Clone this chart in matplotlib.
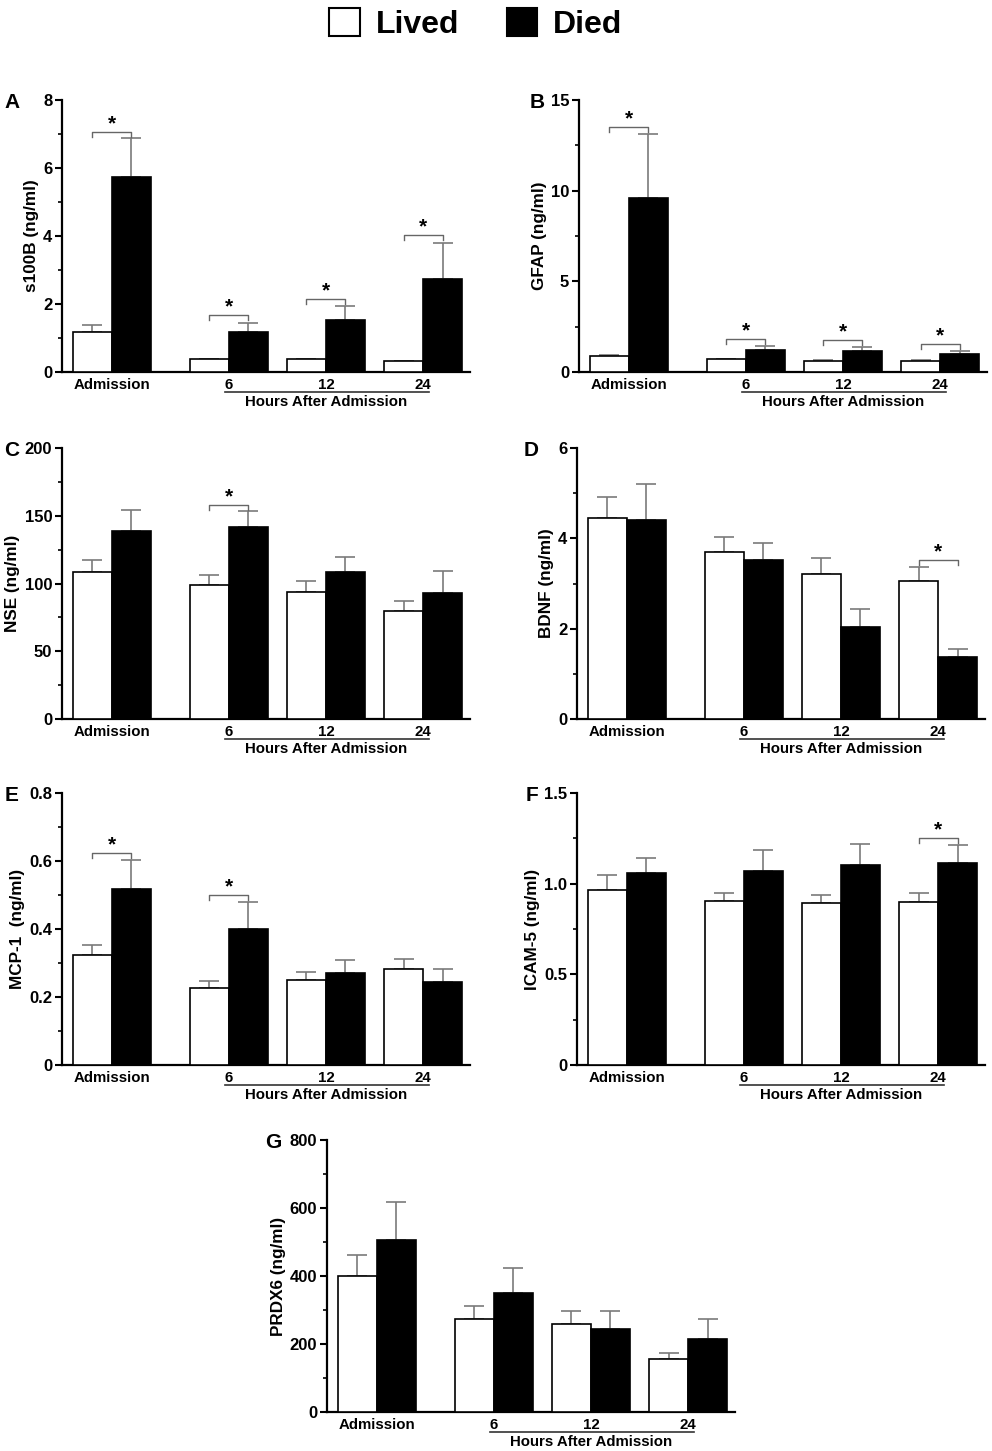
import matplotlib
matplotlib.use("Agg")
import matplotlib.pyplot as plt
import matplotlib.transforms as mtransforms
from matplotlib.patches import Patch
from matplotlib.ticker import MultipleLocator, FuncFormatter
import numpy as np

plt.rcParams['font.family'] = ['Liberation Sans', 'DejaVu Sans']
plt.rcParams['font.weight'] = 'bold'

groups = ["Admission", "6", "12", "24"]
group_pos = [0, 3, 5.5, 8]

# s100B
s100b_lived = [1.19, 0.38, 0.38, 0.31]
s100b_lived_sem = [0.20, 0.01, 0.01, 0.01]
s100b_died = [5.74, 1.19, 1.52, 2.75]
s100b_died_sem = [1.14, 0.26, 0.42, 1.05]
s100b_sig = [7.07, 1.67, 2.14, 4.03]

# GFAP
gfap_lived = [0.86, 0.72, 0.62, 0.62]
gfap_lived_sem = [0.09, 0.02, 0.02, 0.02]
gfap_died = [9.61, 1.19, 1.14, 1.01]
gfap_died_sem = [3.51, 0.22, 0.22, 0.13]
gfap_sig = [13.49, 1.82, 1.78, 1.56]

# NSE
nse_lived = [108.7, 98.6, 94.0, 80.0]
nse_lived_sem = [8.4, 7.9, 8.1, 6.8]
nse_died = [138.7, 141.5, 108.5, 93.2]
nse_died_sem = [15.5, 12.3, 11.3, 15.8]
nse_sig = [None, 158.2, None, None]

# BDNF
bdnf_lived = [4.44, 3.70, 3.20, 3.05]
bdnf_lived_sem = [0.48, 0.34, 0.36, 0.31]
bdnf_died = [4.40, 3.51, 2.03, 1.37]
bdnf_died_sem = [0.80, 0.39, 0.41, 0.19]
bdnf_sig = [None, None, None, 3.51]

# MCP-1
mcp_lived = [0.324, 0.227, 0.249, 0.282]
mcp_lived_sem = [0.029, 0.021, 0.025, 0.031]
mcp_died = [0.518, 0.401, 0.271, 0.245]
mcp_died_sem = [0.084, 0.077, 0.038, 0.036]
mcp_sig = [0.623, 0.50, None, None]

# ICAM-5
icam_lived = [0.964, 0.902, 0.891, 0.900]
icam_lived_sem = [0.083, 0.047, 0.047, 0.046]
icam_died = [1.060, 1.069, 1.104, 1.116]
icam_died_sem = [0.082, 0.117, 0.117, 0.096]
icam_sig = [None, None, None, 1.252]

# PRDX6
prdx_lived = [401, 275, 259, 157]
prdx_lived_sem = [60, 37, 37, 16]
prdx_died = [507, 351, 244, 216]
prdx_died_sem = [110, 74, 54, 58]
prdx_sig = [None, None, None, None]


def fmt_zero(decimals):
    def f(v, pos):
        if abs(v) < 1e-9:
            return "0"
        return ("%." + str(decimals) + "f") % v
    return FuncFormatter(f)


def draw_panel(ax, lived, lived_sem, died, died_sem, sig, ymax, major, minor,
               decimals, ylabel, letter, letter_dx):
    x = np.array(group_pos, dtype=float)
    ax.bar(x - 0.5, lived, width=1.0, color='white', edgecolor='black',
           linewidth=1.2, zorder=3)
    ax.bar(x + 0.5, died, width=1.0, color='black', edgecolor='black',
           linewidth=1.2, zorder=3)
    ax.errorbar(x - 0.5, lived, yerr=[np.zeros(4), lived_sem], fmt='none',
                ecolor='#7a7a7a', elinewidth=1.2, capsize=7, capthick=1.2,
                zorder=2)
    ax.errorbar(x + 0.5, died, yerr=[np.zeros(4), died_sem], fmt='none',
                ecolor='#7a7a7a', elinewidth=1.2, capsize=7, capthick=1.2,
                zorder=2)

    tick = ymax * 0.018
    for xi, h in zip(x, sig):
        if h is None:
            continue
        ax.plot([xi - 0.5, xi - 0.5, xi + 0.5, xi + 0.5],
                [h - tick, h, h, h - tick], color='#666666', lw=1.0,
                clip_on=False, zorder=4)
        ax.annotate("*", (xi, h), xytext=(0, -1), textcoords='offset points',
                    ha='center', va='bottom', fontsize=15, fontweight='bold')

    ax.set_xlim(-1.28, 9.2)
    ax.set_ylim(0, ymax)
    ax.yaxis.set_major_locator(MultipleLocator(major))
    ax.yaxis.set_minor_locator(MultipleLocator(minor))
    ax.yaxis.set_major_formatter(fmt_zero(decimals))
    ax.set_xticks(x)
    ax.set_xticklabels(groups, fontsize=10.8, fontweight='bold')
    ax.tick_params(axis='x', length=0, pad=4)
    ax.tick_params(axis='y', which='major', length=5, width=1.5,
                   labelsize=12, pad=2)
    ax.tick_params(axis='y', which='minor', length=3, width=1.2)
    for t in ax.get_yticklabels():
        t.set_fontweight('bold')
    ax.spines['top'].set_visible(False)
    ax.spines['right'].set_visible(False)
    ax.spines['left'].set_linewidth(1.6)
    ax.spines['bottom'].set_linewidth(1.6)
    ax.set_ylabel(ylabel, fontsize=12.3, fontweight='bold', labelpad=3)

    trans = mtransforms.blended_transform_factory(ax.transData, ax.transAxes)
    ax.plot([2.9, 8.15], [-0.073, -0.073], color='#333333', lw=1.2,
            transform=trans, clip_on=False)
    ax.text(5.5, -0.085, "Hours After Admission", transform=trans,
            ha='center', va='top', fontsize=10.8, fontweight='bold')
    ax.text(letter_dx / 408.0, 0.99, letter, transform=ax.transAxes,
            ha='center', va='center', fontsize=15, fontweight='bold')


fig = plt.figure(figsize=(9.92, 14.51), dpi=100)
W, H = 992.0, 1451.0
aw, ah = 408 / W, 272 / H

ax_a = fig.add_axes([62 / W, (H - 372) / H, aw, ah])
ax_b = fig.add_axes([579 / W, (H - 372) / H, aw, ah])
ax_c = fig.add_axes([62 / W, (H - 719) / H, aw, 271 / H])
ax_d = fig.add_axes([577 / W, (H - 719) / H, aw, 271 / H])
ax_e = fig.add_axes([62 / W, (H - 1065) / H, aw, ah])
ax_f = fig.add_axes([577 / W, (H - 1065) / H, aw, ah])
ax_g = fig.add_axes([327 / W, (H - 1412) / H, aw, ah])

draw_panel(ax_a, s100b_lived, s100b_lived_sem, s100b_died, s100b_died_sem,
           s100b_sig, 8, 2, 1, 0, "s100B (ng/ml)", "A", -50)
draw_panel(ax_b, gfap_lived, gfap_lived_sem, gfap_died, gfap_died_sem,
           gfap_sig, 15, 5, 2.5, 0, "GFAP (ng/ml)", "B", -42)
draw_panel(ax_c, nse_lived, nse_lived_sem, nse_died, nse_died_sem,
           nse_sig, 200, 50, 25, 0, "NSE (ng/ml)", "C", -50)
draw_panel(ax_d, bdnf_lived, bdnf_lived_sem, bdnf_died, bdnf_died_sem,
           bdnf_sig, 6, 2, 1, 0, "BDNF (ng/ml)", "D", -46)
draw_panel(ax_e, mcp_lived, mcp_lived_sem, mcp_died, mcp_died_sem,
           mcp_sig, 0.8, 0.2, 0.1, 1, "MCP-1  (ng/ml)", "E", -50)
draw_panel(ax_f, icam_lived, icam_lived_sem, icam_died, icam_died_sem,
           icam_sig, 1.5, 0.5, 0.25, 1, "ICAM-5 (ng/ml)", "F", -45)
draw_panel(ax_g, prdx_lived, prdx_lived_sem, prdx_died, prdx_died_sem,
           prdx_sig, 800, 200, 100, 0, "PRDX6 (ng/ml)", "G", -54)

handles = [Patch(facecolor='white', edgecolor='black', linewidth=1.5),
           Patch(facecolor='black', edgecolor='black', linewidth=1.5)]
fig.legend(handles, ["Lived", "Died"], loc='center', ncol=2,
           bbox_to_anchor=(476 / W, 1 - 24 / H), frameon=False,
           prop={'size': 23, 'weight': 'bold'}, handlelength=0.95,
           handleheight=0.95, handletextpad=0.5, columnspacing=1.5)

fig.savefig("out.png", dpi=100)
